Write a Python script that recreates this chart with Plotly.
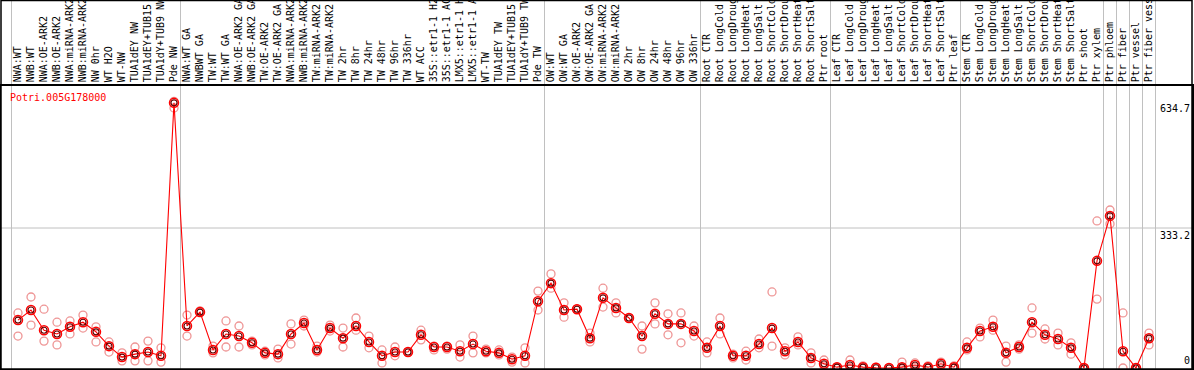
import plotly.graph_objects as go

labels = [
    "NWA:WT", "NWB:WT", "NWA:OE-ARK2", "NWB:OE-ARK2", "NWA:miRNA-ARK2", "NWB:miRNA-ARK2",
    "NW 0hr", "WT H2O", "WT-NW", "TUA1dEY NW", "TUA1dEY+TUB15 NW", "TUA1dY+TUB9 NW", "Pde NW",
    "NWA:WT GA", "NWBWT GA", "TW:WT", "TW:WT GA", "NWA:OE-ARK2 GA", "NWB:OE-ARK2 GA",
    "TW:OE-ARK2", "TW:OE-ARK2 GA", "NWA:miRNA-ARK2 GA", "NWB:miRNA-ARK2 GA", "TW:miRNA-ARK2",
    "TW:miRNA-ARK2 GA", "TW 2hr", "TW 8hr", "TW 24hr", "TW 48hr", "TW 96hr", "TW 336hr",
    "WT ACC", "35S::etr1-1 H2O", "35S::etr1-1 ACC", "LMX5::etr1-1 H2O", "LMX5::etr1-1 ACC",
    "WT-TW", "TUA1dEY TW", "TUA1dEY+TUB15 TW", "TUA1dY+TUB9 TW", "Pde TW",
    "OW:WT", "OW:WT GA", "OW:OE-ARK2", "OW:OE-ARK2 GA", "OW:miRNA-ARK2", "OW:miRNA-ARK2 GA",
    "OW 2hr", "OW 8hr", "OW 24hr", "OW 48hr", "OW 96hr", "OW 336hr",
    "Root CTR", "Root LongCold", "Root LongDrought", "Root LongHeat", "Root LongSalt",
    "Root ShortCold", "Root ShortDrought", "Root ShortHeat", "Root ShortSalt", "Ptr root",
    "Leaf CTR", "Leaf LongCold", "Leaf LongDrought", "Leaf LongHeat", "Leaf LongSalt",
    "Leaf ShortCold", "Leaf ShortDrought", "Leaf ShortHeat", "Leaf ShortSalt", "Ptr leaf",
    "Stem CTR", "Stem LongCold", "Stem LongDrought", "Stem LongHeat", "Stem LongSalt",
    "Stem ShortCold", "Stem ShortDrought", "Stem ShortHeat", "Stem ShortSalt", "Ptr shoot",
    "Ptr xylem", "Ptr phloem", "Ptr fiber", "Ptr vessel", "Ptr fiber vessel",
]

group_sizes = [13, 28, 12, 10, 10, 11, 1, 1, 1, 1]

mean_values = [
    114, 138, 90, 81, 98, 109, 86, 52, 26, 33, 38, 29, 631,
    100, 133, 43, 81, 76, 60, 36, 33, 81, 107, 43, 95, 71, 100, 62, 29, 38, 38,
    79, 50, 50, 40, 57, 40, 36, 21, 29, 159,
    202, 138, 140, 71, 167, 143, 119, 76, 129, 105, 105, 88,
    48, 100, 29, 29, 57, 95, 40, 62, 24, 10,
    2, 7, 2, 0.5, 0, 2, 7, 2, 10, 2,
    48, 88, 98, 36, 50, 109, 79, 69, 48, 0,
    255, 362, 40, 0, 71,
]

rep_a = [
    131, 169, 140, 109, 112, 126, 98, 62, 36, 50, 64, 48, 634.7,
    126, 136, 52, 112, 100, 64, 40, 45, 105, 114, 52, 102, 95, 119, 76, 43, 50, 38,
    90, 52, 52, 55, 76, 45, 43, 26, 48, 183,
    224, 155, 140, 83, 190, 155, 119, 100, 155, 129, 131, 100,
    62, 119, 33, 40, 69, 181, 48, 74, 36, 19,
    2, 19, 5, 2, 0, 14, 12, 5, 14, 5,
    62, 95, 114, 52, 55, 143, 93, 83, 60, 0,
    350, 376, 131, 0, 83,
]

rep_b = [
    76, 102, 64, 55, 81, 95, 62, 38, 17, 17, 17, 14, 619,
    76, 133, 36, 50, 50, 55, 31, 24, 57, 100, 38, 88, 50, 90, 48, 12, 29, 38,
    67, 43, 45, 26, 36, 36, 31, 14, 12, 138,
    190, 121, 140, 62, 145, 131, 119, 45, 105, 79, 60, 76,
    36, 81, 24, 19, 48, 52, 31, 55, 12, 5,
    0, 0, 0, 0, 0, 0, 2, 0, 5, 0,
    43, 74, 90, 14, 45, 83, 69, 55, 33, 0,
    164, 343, 0, 0, 55,
]

y_ticks = [0, 333.2, 634.7]
gene = "Potri.005G178000"

idx = list(range(len(labels)))

# group boundaries
bounds = [-0.5]
for s in group_sizes:
    bounds.append(bounds[-1] + s)

W, H = 1194, 370
ml, mr, mt, mb = 1, 2, 86, 1
plot_h = H - mt - mb

mono = "DejaVu Sans Mono"

fig = go.Figure()

fig.add_trace(go.Scatter(
    x=idx + idx, y=rep_a + rep_b, mode="markers",
    marker=dict(symbol="circle-open", size=8, color="rgba(235,130,130,0.85)",
                line=dict(width=1.3)),
    hoverinfo="skip", showlegend=False,
))
fig.add_trace(go.Scatter(
    x=idx, y=mean_values, mode="lines+markers",
    line=dict(color="#ff0000", width=1.1),
    marker=dict(symbol="circle-open", size=9, color="#ff0000", line=dict(width=1.5)),
    showlegend=False,
))
fig.add_trace(go.Scatter(
    x=idx, y=mean_values, mode="markers",
    marker=dict(symbol="circle-open", size=6, color="#600000", line=dict(width=1.1)),
    hoverinfo="skip", showlegend=False,
))

shapes = []
top_paper = (H - mb) / plot_h
for b in bounds:
    shapes.append(dict(type="line", xref="x", yref="paper", x0=b, x1=b, y0=0, y1=top_paper,
                       line=dict(color="#c0c0c0", width=1), layer="below"))
shapes.append(dict(type="line", xref="paper", yref="y", x0=0, x1=1, y0=y_ticks[1], y1=y_ticks[1],
                   line=dict(color="#c0c0c0", width=1), layer="below"))
# outer frame
shapes.append(dict(type="rect", xref="paper", yref="paper", x0=0, x1=1, y0=0, y1=top_paper - 0.5 / plot_h,
                   line=dict(color="black", width=1.5), layer="above"))

annotations = [dict(
    text=gene, xref="paper", yref="paper", x=7 / (W - ml - mr), y=1 - 4 / plot_h,
    xanchor="left", yanchor="top", showarrow=False,
    font=dict(family=mono, size=10, color="#ff0000"),
)]
for i, t in enumerate(y_ticks):
    annotations.append(dict(
        text=f"{t:g}", xref="paper", yref="y", x=1, y=t,
        xanchor="right", yanchor="bottom" if i == 0 else "top", showarrow=False,
        font=dict(family=mono, size=10, color="black"),
    ))

fig.update_layout(
    width=W, height=H,
    margin=dict(l=ml, r=mr, t=mt, b=mb, pad=0, autoexpand=False),
    paper_bgcolor="white", plot_bgcolor="white",
    shapes=shapes, annotations=annotations,
    xaxis=dict(
        range=[-17 / 13, -17 / 13 + (W - ml - mr) / 13],
        side="top", tickmode="array", tickvals=idx, ticktext=labels,
        tickangle=-90, ticks="", showgrid=False, zeroline=False, automargin=False,
        showline=True, linecolor="black", linewidth=1.5, mirror=True,
        tickfont=dict(family=mono, size=10, color="black"),
        fixedrange=True,
    ),
    yaxis=dict(
        range=[-1 / (140 / 333.2), (368 - 86) / (140 / 333.2)],
        showticklabels=False, ticks="", showgrid=False, zeroline=False, automargin=False,
        showline=True, linecolor="black", linewidth=1.5, mirror=True,
        fixedrange=True,
    ),
)

fig.write_html(
    "out.html",
    config={"displayModeBar": False},
    post_script="document.body.style.margin='0';document.body.style.overflow='hidden';",
)
